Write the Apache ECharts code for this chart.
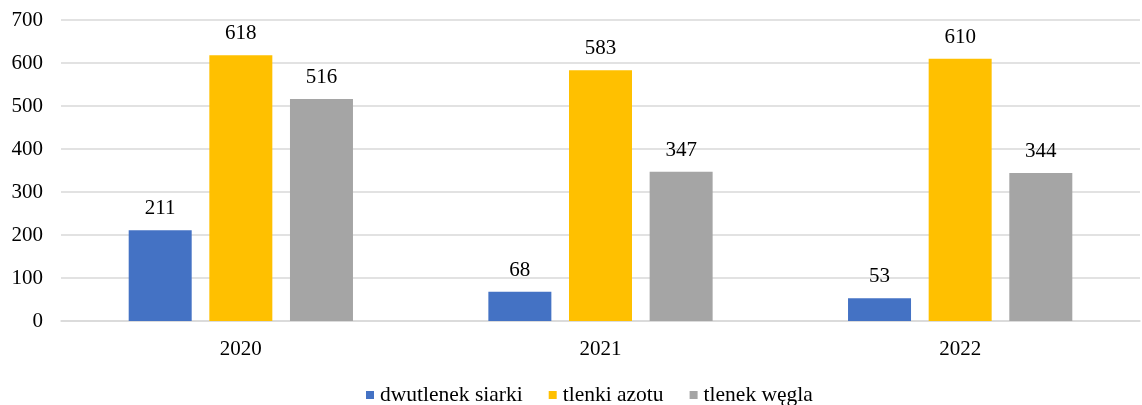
<!DOCTYPE html>
<html><head><meta charset="utf-8">
<script src="https://cdn.jsdelivr.net/npm/echarts@6/dist/echarts.min.js"></script>
<style>html,body{margin:0;padding:0;background:#fff}#c{width:1142px;height:405px}</style>
</head><body><div id="c"></div>
<script>
const categories = ['2020', '2021', '2022'];
const seriesNames = ['dwutlenek siarki', 'tlenki azotu', 'tlenek węgla'];
const so2 = [211, 68, 53];
const nox = [618, 583, 610];
const co = [516, 347, 344];
const colors = ['#4472C4', '#FFC000', '#A5A5A5'];
const font = 'Liberation Serif, Times New Roman, serif';
const chart = echarts.init(document.getElementById('c'));
const mk = (name, data, color) => ({
  name, type: 'bar', data, barWidth: 63, barGap: '28%',
  itemStyle: { color },
  label: { show: true, position: 'top', distance: 11, color: '#000', fontFamily: font, fontSize: 21 }
});
chart.setOption({
  animation: false,
  color: colors,
  grid: { left: 61, right: 2, top: 20, bottom: 84 },
  xAxis: {
    type: 'category', data: categories,
    axisLine: { lineStyle: { color: '#D9D9D9', width: 1.5 } },
    axisTick: { show: false },
    axisLabel: { color: '#000', fontFamily: font, fontSize: 21, margin: 18 }
  },
  yAxis: {
    type: 'value', min: 0, max: 700, interval: 100,
    axisLine: { show: false }, axisTick: { show: false },
    splitLine: { lineStyle: { color: '#D9D9D9', width: 1.5 } },
    axisLabel: { color: '#000', fontFamily: font, fontSize: 21, margin: 18 }
  },
  legend: {
    top: 379, left: 361, itemWidth: 8, itemHeight: 8, itemGap: 26,
    icon: 'rect',
    textStyle: { color: '#000', fontFamily: font, fontSize: 21.5, padding: [0,0,0,1] },
    data: seriesNames
  },
  series: [mk(seriesNames[0], so2, colors[0]), mk(seriesNames[1], nox, colors[1]), mk(seriesNames[2], co, colors[2])]
});
</script></body></html>
